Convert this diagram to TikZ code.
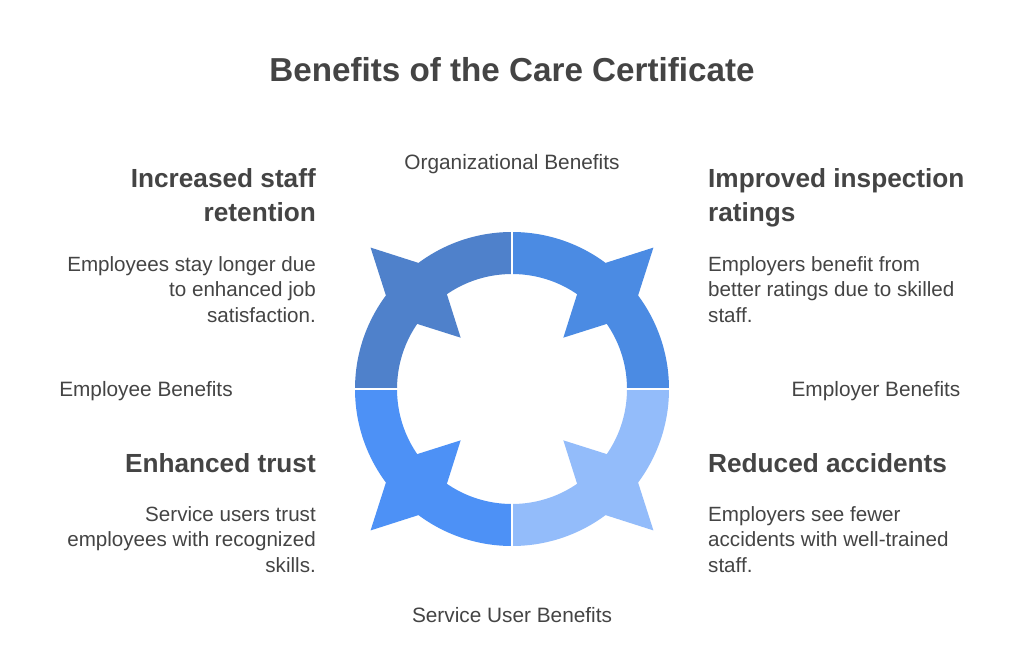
\documentclass[tikz,border=0pt]{standalone}
\usepackage{fontspec}
\setmainfont{Liberation Sans}
\usetikzlibrary{calc}
\definecolor{txt}{HTML}{444444}
\definecolor{qtl}{HTML}{4F81CB}
\definecolor{qtr}{HTML}{4B8BE3}
\definecolor{qbl}{HTML}{4D91F6}
\definecolor{qbr}{HTML}{93BCFA}
\begin{document}
\begin{tikzpicture}[x=1pt,y=-1pt,
  titlestyle/.style={font=\fontsize{33.2}{38}\selectfont\bfseries,text=txt,inner sep=0},
  headstyle/.style={font=\fontsize{26.2}{34}\selectfont\bfseries,text=txt,inner sep=0},
  bodystyle/.style={font=\fontsize{20.6}{25.3}\selectfont,text=txt,inner sep=0},
  catstyle/.style={font=\fontsize{20.8}{25}\selectfont,text=txt,inner sep=0},
  gapline/.style={draw=white,line width=1.6pt}]
\useasboundingbox[fill=white] (0,0) rectangle (1024,671);
\coordinate (C) at (512,389);
% quarter segments: annular sector plus kite
\foreach \a/\d/\col in {180/225/qtl,270/315/qtr,0/45/qbr,90/135/qbl}{
  \fill[\col] ($(C)+(\a:157)$) arc[start angle=\a,end angle=\a+90,radius=157]
     -- ($(C)+(\a+90:115)$) arc[start angle=\a+90,end angle=\a,radius=115] -- cycle;
  \fill[\col] ($(C)+(\d:200)$) -- ($(C)+(\d+13.6:140)$) -- ($(C)+(\d:72.6)$) -- ($(C)+(\d-13.6:140)$) -- cycle;
}
\foreach \a in {0,90,180,270}{
  \draw[gapline] ($(C)+(\a:113)$) -- ($(C)+(\a:159)$);
}
\node[titlestyle,anchor=base] (title) at (512,82) {Benefits of the Care Certificate};
\node[catstyle,anchor=base] (org) at (512,169) {Organizational Benefits};
\node[catstyle,anchor=base] (emp) at (146,396) {Employee Benefits};
\node[catstyle,anchor=base] (empr) at (876,396) {Employer Benefits};
\node[catstyle,anchor=base] (svc) at (512,622) {Service User Benefits};
% multi-line nodes: base anchor = baseline of last line
\node[headstyle,anchor=base east,align=right] (h1) at (316,221) {Increased staff\\retention};
\node[bodystyle,anchor=base east,align=right] (b1) at (316,322) {Employees stay longer due\\to enhanced job\\satisfaction.};
\node[headstyle,anchor=base west,align=left] (h2) at (708,221) {Improved inspection\\ratings};
\node[bodystyle,anchor=base west,align=left] (b2) at (708,322) {Employers benefit from\\better ratings due to skilled\\staff.};
\node[headstyle,anchor=base east,align=right] (h3) at (316,472) {Enhanced trust};
\node[bodystyle,anchor=base east,align=right] (b3) at (316,572) {Service users trust\\employees with recognized\\skills.};
\node[headstyle,anchor=base west,align=left] (h4) at (708,472) {Reduced accidents};
\node[bodystyle,anchor=base west,align=left] (b4) at (708,572) {Employers see fewer\\accidents with well-trained\\staff.};
\end{tikzpicture}
\end{document}
